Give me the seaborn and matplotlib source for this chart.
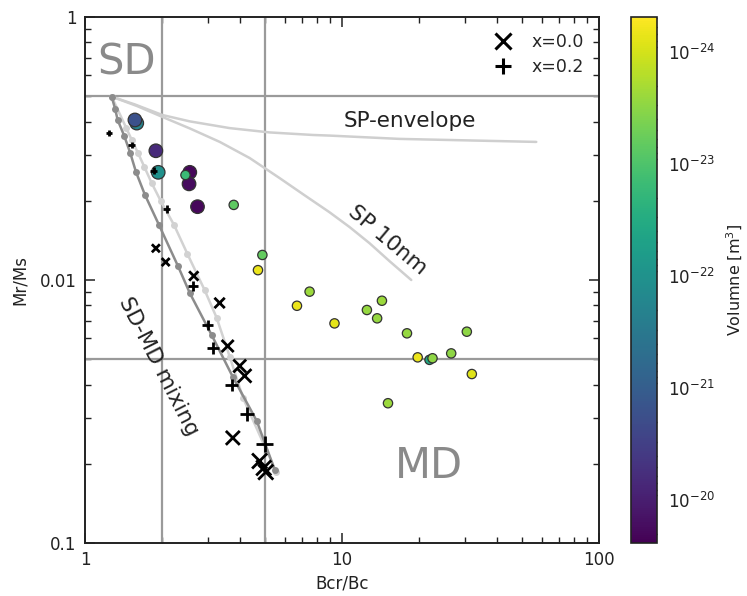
import numpy as np
import pandas as pd
import matplotlib
matplotlib.use("Agg")
import matplotlib.pyplot as plt
from matplotlib.colors import LogNorm
from matplotlib.lines import Line2D
from matplotlib.ticker import NullFormatter, FixedLocator
import matplotlib.cm as cm
import seaborn as sns

# ---------------- data ----------------
# coloured circles (grain volume in m^3)
circle_bcr_bc = [1.59, 1.564, 1.887, 1.927, 2.557, 2.54, 2.46, 2.74,
                 3.79, 4.90, 4.71, 7.48, 6.68, 9.35, 14.3, 12.5, 13.7, 17.9,
                 30.6, 19.7, 21.9, 22.5, 26.6, 32.0, 15.1]
circle_mr_ms = [0.395, 0.406, 0.310, 0.2567, 0.2567, 0.232, 0.2507, 0.190,
                0.193, 0.1245, 0.109, 0.0903, 0.0798, 0.0684, 0.0834, 0.0769, 0.0715, 0.0627,
                0.0636, 0.0508, 0.0497, 0.0504, 0.0526, 0.0439, 0.034]
circle_volume = [1.86e-22, 1.62e-21, 6.6e-21, 1.07e-22, 1.95e-20, 1.74e-20, 1.55e-23, 1.95e-20,
                 7.2e-24, 6.6e-24, 6.8e-25, 2.45e-24, 6.8e-25, 7.6e-25, 2.45e-24, 2.75e-24, 2.75e-24, 2.75e-24,
                 3.1e-24, 6.8e-25, 3.7e-23, 3.1e-24, 3.1e-24, 8.3e-25, 2.45e-24]
circle_size = [95, 95, 95, 95, 95, 95, 45, 95,
               45, 45, 45, 45, 45, 45, 45, 45, 45, 45,
               45, 45, 45, 45, 45, 45, 45]

# x = 0.0 series (crosses)
cross_bcr_bc = [1.887, 2.06, 2.65, 3.34, 3.59, 4.00, 4.18, 3.76, 4.78, 4.96, 5.05]
cross_mr_ms = [0.132, 0.117, 0.1036, 0.0818, 0.0561, 0.0471, 0.0432, 0.0251, 0.0205, 0.0193, 0.0186]
cross_size = [33, 33, 45, 55, 75, 85, 95, 100, 117, 117, 117]

# x = 0.2 series (pluses)
plus_bcr_bc = [1.24, 1.52, 1.85, 2.08, 2.63, 3.00, 3.14, 3.72, 4.26, 5.00]
plus_mr_ms = [0.362, 0.326, 0.26, 0.186, 0.0949, 0.0675, 0.0551, 0.0399, 0.0309, 0.0238]
plus_size = [22, 22, 25, 28, 50, 60, 70, 85, 100, 140]

# SD-MD mixing curves
mix_dark_x = [1.27, 1.31, 1.34, 1.42, 1.50, 1.58, 1.71, 1.94, 2.30, 2.56, 3.11, 3.76, 4.66, 5.47]
mix_dark_y = [0.498, 0.447, 0.406, 0.354, 0.304, 0.257, 0.211, 0.162, 0.113, 0.089, 0.0618, 0.0428, 0.0291, 0.019]
mix_light_x = [1.27, 1.45, 1.52, 1.61, 1.70, 1.82, 1.97, 2.22, 2.50, 2.92, 3.25, 3.66, 4.12, 5.55]
mix_light_y = [0.498, 0.377, 0.341, 0.303, 0.270, 0.233, 0.200, 0.162, 0.126, 0.0916, 0.072, 0.051, 0.0356, 0.0186]

# SP curves
sp_env_x = [1.27, 1.564, 2.0, 2.557, 3.66, 5.23, 7.7, 9.0, 16.7, 57.0]
sp_env_y = [0.498, 0.465, 0.424, 0.401, 0.378, 0.364, 0.356, 0.354, 0.344, 0.335]
sp10_x = [1.27, 1.59, 2.0, 2.557, 3.345, 4.37, 5.72, 7.15, 8.94, 10.7, 12.8, 15.3, 18.6]
sp10_y = [0.498, 0.459, 0.417, 0.377, 0.335, 0.291, 0.244, 0.210, 0.181, 0.159, 0.138, 0.118, 0.100]

# reference lines
ref_bcr_bc = [2, 5]
ref_mr_ms = [0.5, 0.05]

# ticks
x_ticks = [1, 10, 100]
x_tick_labels = ["1", "10", "100"]
y_ticks = [1, 0.1, 0.01]
y_tick_labels = ["1", "0.01", "0.1"]
cb_ticks = [1e-24, 1e-23, 1e-22, 1e-21, 1e-20]
vol_min, vol_max = 10 ** -24.31, 10 ** -19.62

# ---------------- style ----------------
sns.set_style("ticks")
plt.rcParams["font.family"] = ["DejaVu Sans"]
plt.rcParams["axes.edgecolor"] = "#222222"
plt.rcParams["axes.linewidth"] = 1.4

fig = plt.figure(figsize=(7.47, 5.96), dpi=100)
ax = fig.add_axes([85 / 747, 53 / 596, 514 / 747, 526 / 596])
ax.set_xscale("log")
ax.set_yscale("log")
ax.set_xlim(1, 100)
ax.set_ylim(0.01, 1)

for xv in ref_bcr_bc:
    ax.axvline(xv, color="#9a9a9a", lw=1.6, zorder=1)
for yv in ref_mr_ms:
    ax.axhline(yv, color="#9a9a9a", lw=1.6, zorder=1)

sns.lineplot(x=sp_env_x, y=sp_env_y, sort=False, estimator=None, color="#cfcfcf",
             lw=1.8, ax=ax, zorder=1.5)
sns.lineplot(x=sp10_x, y=sp10_y, sort=False, estimator=None, color="#cfcfcf",
             lw=1.8, ax=ax, zorder=1.5)
sns.lineplot(x=mix_light_x, y=mix_light_y, sort=False, estimator=None, color="#d2d2d2",
             lw=1.8, marker="o", markersize=5, markeredgewidth=0, ax=ax, zorder=2)
sns.lineplot(x=mix_dark_x, y=mix_dark_y, sort=False, estimator=None, color="#8c8c8c",
             lw=1.8, marker="o", markersize=5, markeredgewidth=0, ax=ax, zorder=2.1)

norm = LogNorm(vmin=vol_min, vmax=vol_max)
sns.scatterplot(x=circle_bcr_bc, y=circle_mr_ms, hue=circle_volume, hue_norm=norm,
                palette="viridis_r", s=circle_size, edgecolor="#333333", linewidth=0.9,
                legend=False, ax=ax, zorder=3)
sns.scatterplot(x=cross_bcr_bc, y=cross_mr_ms, marker="x", s=cross_size, color="k",
                linewidth=2, legend=False, ax=ax, zorder=4)
sns.scatterplot(x=plus_bcr_bc, y=plus_mr_ms, marker="+", s=plus_size, color="k",
                linewidth=2, legend=False, ax=ax, zorder=4)

# annotations
ax.text(1.45, 0.674, "SD", fontsize=30, color="#8a8a8a", ha="center", va="center")
ax.text(21.7, 0.0196, "MD", fontsize=30, color="#8a8a8a", ha="center", va="center")
ax.text(18.3, 0.402, "SP-envelope", fontsize=15.5, color="#222222", ha="center", va="center")
ax.text(15.0, 0.142, "SP 10nm", fontsize=15.5, color="#222222", ha="center", va="center",
        rotation=-40, rotation_mode="anchor")
ax.text(1.94, 0.0471, "SD-MD mixing", fontsize=15.5, color="#222222", ha="center", va="center",
        rotation=-63, rotation_mode="anchor")

# ticks
ax.xaxis.set_major_locator(FixedLocator(x_ticks))
ax.set_xticklabels(x_tick_labels)
ax.yaxis.set_major_locator(FixedLocator(y_ticks))
ax.set_yticklabels(y_tick_labels)
ax.xaxis.set_minor_formatter(NullFormatter())
ax.yaxis.set_minor_formatter(NullFormatter())
ax.tick_params(which="both", direction="in", top=True, right=True, colors="#222222",
               labelsize=12, pad=6)
ax.tick_params(which="major", length=7, width=1.1)
ax.tick_params(which="minor", length=4, width=1.0)
ax.set_xlabel("Bcr/Bc", fontsize=12, color="#222222", labelpad=4)
ax.set_ylabel("Mr/Ms", fontsize=12, color="#222222", labelpad=8)

# legend
handles = [Line2D([], [], ls="none", marker="x", color="k", markersize=11, mew=2.2),
           Line2D([], [], ls="none", marker="+", color="k", markersize=11, mew=2.2)]
ax.legend(handles, ["x=0.0", "x=0.2"], loc="upper right", frameon=False, fontsize=12.5,
          handletextpad=0.6, borderaxespad=0.5, labelspacing=0.45)

# colorbar
cax = fig.add_axes([631 / 747, 53 / 596, 26 / 747, 526 / 596])
sm = cm.ScalarMappable(norm=norm, cmap="viridis_r")
cb = fig.colorbar(sm, cax=cax)
cb.set_ticks(cb_ticks)
cax.invert_yaxis()
cax.tick_params(which="both", direction="in", colors="#222222", labelsize=12, pad=8)
cax.tick_params(which="major", length=7, width=1.1)
cax.tick_params(which="minor", length=4, width=1.0)
cb.outline.set_linewidth(1.2)
cb.outline.set_edgecolor("#222222")
cb.set_label("Volumne [m$^3$]", fontsize=11.5, color="#222222", labelpad=7)

fig.savefig("out.png", dpi=100)
